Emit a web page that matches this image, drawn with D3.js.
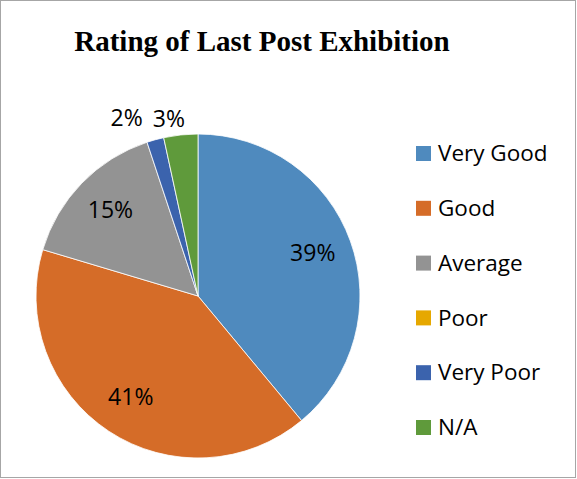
<!DOCTYPE html>
<html>
<head>
<meta charset="utf-8">
<script src="https://cdn.jsdelivr.net/npm/d3@7"></script>
<style>
  body { margin: 0; background: #fff; }
  .title { font-family: "Liberation Serif", "Times New Roman", serif; font-weight: bold; font-size: 29px; }
  .lbl { font-family: "Open Sans", "Noto Sans", sans-serif; font-size: 23px; fill: #000; }
  .leg { font-family: "Open Sans", "Noto Sans", sans-serif; font-size: 22.5px; fill: #000; }
</style>
</head>
<body>
<div id="chart"></div>
<script>
// chart data (percent of responses)
const categories = ["Very Good", "Good", "Average", "Poor", "Very Poor", "N/A"];
const values = [39.0, 40.7, 15.3, 0, 1.7, 3.4];
const colors = ["#4f8abe", "#d56c28", "#939393", "#e6a800", "#3b63ad", "#5f9a3b"];

const width = 577, height = 479;
const cx = 198, cy = 296, r = 162;

const svg = d3.select("#chart").append("svg")
    .attr("width", width)
    .attr("height", height);

svg.append("rect")
    .attr("x", 0.5).attr("y", 0.5)
    .attr("width", width - 2).attr("height", height - 2)
    .attr("fill", "#fff")
    .attr("stroke", "#a6a6a6");

svg.append("text")
    .attr("class", "title")
    .attr("x", 262).attr("y", 51)
    .attr("text-anchor", "middle")
    .text("Rating of Last Post Exhibition");

const data = categories.map((c, i) => ({ name: c, value: values[i], color: colors[i] }));
const fmt = v => Math.round(v) + "%";

const pie = d3.pie().sort(null).value(d => d.value);
const arcs = pie(data);

const arc = d3.arc().innerRadius(0).outerRadius(r);
const g = svg.append("g").attr("transform", `translate(${cx},${cy})`);

g.selectAll("path")
    .data(arcs.filter(d => d.data.value > 0))
    .enter()
    .append("path")
    .attr("d", arc)
    .attr("fill", d => d.data.color)
    .attr("stroke", "#fff")
    .attr("stroke-width", 0.8);

// inside labels for big slices
const inArc = d3.arc().innerRadius(122).outerRadius(122);
g.selectAll("text.in")
    .data(arcs.filter(d => d.data.value >= 5))
    .enter()
    .append("text")
    .attr("class", "lbl in")
    .attr("transform", d => `translate(${inArc.centroid(d)})`)
    .attr("text-anchor", "middle")
    .attr("dy", "0.3em")
    .text(d => fmt(d.data.value));

// outside labels for small slices, pushed apart to avoid overlap
const outArc = d3.arc().innerRadius(r + 8).outerRadius(r + 8);
const small = arcs.filter(d => d.data.value > 0 && d.data.value < 5);
const outs = g.selectAll("text.out")
    .data(small)
    .enter()
    .append("text")
    .attr("class", "lbl out")
    .attr("text-anchor", "end")
    .text(d => fmt(d.data.value));

const pos = small.map(d => outArc.centroid(d));
const widths = [];
outs.each(function(d, i) { widths[i] = this.getComputedTextLength(); });
for (let i = pos.length - 2; i >= 0; i--) {
    const leftEdgeNext = pos[i + 1][0] - widths[i + 1];
    if (pos[i][0] > leftEdgeNext - 10) pos[i][0] = leftEdgeNext - 10;
}
outs.attr("x", (d, i) => pos[i][0] + 5).attr("y", (d, i) => pos[i][1] - (i < pos.length - 1 ? 6 : 0));

// legend
const legY = d3.scalePoint().domain(categories).range([153, 427]);
const leg = svg.append("g").selectAll("g")
    .data(data)
    .enter()
    .append("g")
    .attr("transform", d => `translate(416,${legY(d.name)})`);

leg.append("rect")
    .attr("x", 0).attr("y", -7)
    .attr("width", 15).attr("height", 15)
    .attr("fill", d => d.color);

leg.append("text")
    .attr("class", "leg")
    .attr("x", 22)
    .attr("dy", "0.36em")
    .text(d => d.name);
</script>
</body>
</html>
